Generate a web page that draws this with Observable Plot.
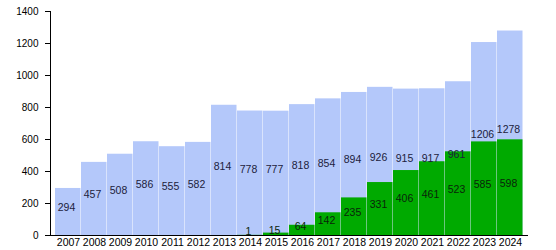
<!DOCTYPE html>
<html>
<head>
<meta charset="utf-8">
<script src="https://cdn.jsdelivr.net/npm/d3@7"></script>
<script src="https://cdn.jsdelivr.net/npm/@observablehq/plot@0.6"></script>
<style>
  html, body { margin: 0; padding: 0; background: #fff; }
  svg { font-family: "Liberation Sans", Arial, sans-serif; }
</style>
</head>
<body>
<div id="chart"></div>
<script>
const years = ["2007","2008","2009","2010","2011","2012","2013","2014","2015","2016","2017","2018","2019","2020","2021","2022","2023","2024"];
const totals = [294,457,508,586,555,582,814,778,777,818,854,894,926,915,917,961,1206,1278];
const greens = [null,null,null,null,null,null,null,1,15,64,142,235,331,406,461,523,585,598];
const yTicks = [0,200,400,600,800,1000,1200,1400];

const data = years.map((y, i) => ({year: y, total: totals[i], green: greens[i]}));
const gdata = data.filter(d => d.green != null);

const chart = Plot.plot({
  width: 556,
  height: 250,
  marginLeft: 50,
  marginRight: 29,
  marginTop: 11,
  marginBottom: 15,
  style: {fontSize: "10px", fontFamily: "'Liberation Sans', Arial, sans-serif", color: "#000"},
  x: {domain: years, padding: 0, label: null},
  y: {domain: [0, 1400], label: null},
  marks: [
    Plot.barY(data, {x: "year", y: "total", fill: "#b4c8fa", insetRight: 0.5}),
    Plot.barY(gdata, {x: "year", y: "green", fill: "#00aa00", insetRight: 0.5}),
    Plot.text(data, {x: "year", y: d => d.total / 2, text: d => String(d.total), dy: -4, dx: -2, fill: "#1c1c3c", fontSize: 10.5}),
    Plot.text(gdata, {x: "year", y: d => d.green / 2, text: d => String(d.green), dy: -4, dx: -2, fill: "#0a250a", fontSize: 10.5}),
    Plot.frame({anchor: "left", stroke: "#000"}),
    Plot.frame({anchor: "bottom", stroke: "#000"}),
    Plot.axisY({ticks: yTicks, tickFormat: "d", tickSize: 5, tickPadding: 7, label: null, fontSize: 10}),
    Plot.axisX({tickSize: 0, tickPadding: 3, label: null, fontSize: 10.5})
  ]
});
document.getElementById("chart").appendChild(chart);
</script>
</body>
</html>
